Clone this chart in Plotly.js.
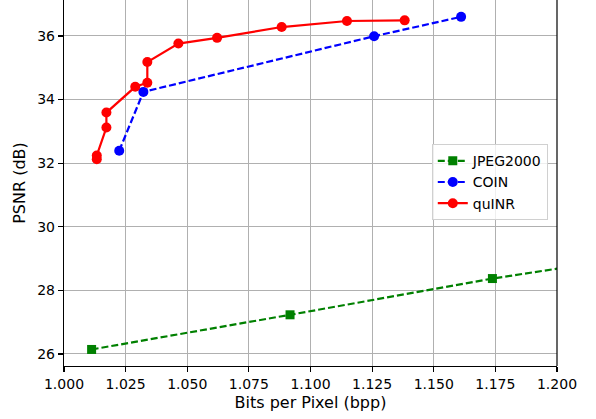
<!DOCTYPE html>
<html>
<head>
<meta charset="utf-8">
<script src="https://cdn.plot.ly/plotly-3.0.1.min.js"></script>
<style>html,body{margin:0;padding:0;background:#fff;}#chart{width:596px;height:419px;}</style>
</head>
<body>
<div id="chart"></div>
<script>
// Data
const jpegBpp  = [1.0112, 1.0917, 1.1738, 1.2550];
const jpegPsnr = [26.14, 27.23, 28.37, 29.33];

const coinBpp  = [1.0224, 1.0322, 1.1258, 1.1611];
const coinPsnr = [32.39, 34.24, 35.99, 36.60];

const quinrBpp  = [1.0133, 1.0133, 1.0172, 1.0172, 1.0289, 1.0338, 1.0338, 1.0464, 1.0621, 1.0883, 1.1148, 1.1382];
const quinrPsnr = [32.12, 32.24, 33.12, 33.59, 34.40, 34.53, 35.18, 35.76, 35.94, 36.28, 36.47, 36.49];

const font = "DejaVu Sans, sans-serif";

const traces = [
  {x: jpegBpp, y: jpegPsnr, name: 'JPEG2000', mode: 'lines+markers', type: 'scatter',
   line: {color: 'green', width: 2.2, dash: '7px,3px'},
   marker: {symbol: 'square', size: 9, color: 'green'}, cliponaxis: true},
  {x: coinBpp, y: coinPsnr, name: 'COIN', mode: 'lines+markers', type: 'scatter',
   line: {color: 'blue', width: 2.2, dash: '7px,3px'},
   marker: {symbol: 'circle', size: 10, color: 'blue'}, cliponaxis: true},
  {x: quinrBpp, y: quinrPsnr, name: 'quINR', mode: 'lines+markers', type: 'scatter',
   line: {color: 'red', width: 2.2},
   marker: {symbol: 'circle', size: 10, color: 'red'}, cliponaxis: true}
];

const layout = {
  width: 596, height: 419,
  margin: {l: 64, r: 39, t: 0, b: 53},
  paper_bgcolor: '#fff', plot_bgcolor: '#fff',
  font: {family: font, size: 14, color: '#000'},
  showlegend: true,
  legend: {x: 0.746, y: 0.606, xanchor: 'left', yanchor: 'top',
           bgcolor: 'rgba(255,255,255,0.8)', bordercolor: '#d0d0d0', borderwidth: 1,
           font: {family: font, size: 14}},
  xaxis: {range: [1.0, 1.2], dtick: 0.025, tick0: 1.0, tickformat: '.3f',
          showgrid: true, gridcolor: '#b0b0b0', gridwidth: 1,
          showline: true, linecolor: '#000', linewidth: 1.2, mirror: false,
          ticks: 'outside', ticklen: 5, tickwidth: 1.2, tickcolor: '#000',
          zeroline: false,
          tickfont: {family: font, size: 14},
          title: {text: 'Bits per Pixel (bpp)', font: {family: font, size: 16}, standoff: 5}},
  yaxis: {range: [25.62, 37.13], dtick: 2, tick0: 26,
          showgrid: true, gridcolor: '#b0b0b0', gridwidth: 1,
          showline: true, linecolor: '#000', linewidth: 1.2,
          ticks: 'outside', ticklen: 5, tickwidth: 1.2, tickcolor: '#000',
          zeroline: false,
          tickfont: {family: font, size: 14},
          title: {text: 'PSNR (dB)', font: {family: font, size: 16}, standoff: 7}},
  shapes: [{type: 'line', xref: 'paper', yref: 'paper', x0: 1, x1: 1, y0: 0, y1: 1,
            line: {color: '#000', width: 1.2}}]
};

Plotly.newPlot('chart', traces, layout, {displayModeBar: false, staticPlot: true});
</script>
</body>
</html>
